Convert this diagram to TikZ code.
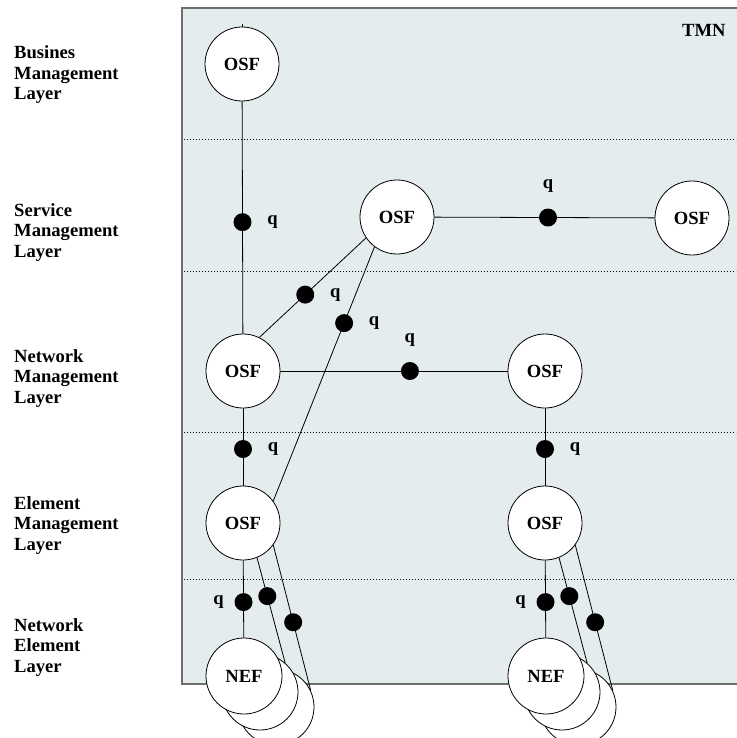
\documentclass[tikz,border=0pt]{standalone}
\usepackage{fontspec}
\setmainfont{Liberation Serif}
\begin{document}
\begin{tikzpicture}[x=1pt,y=-1pt,
  every node/.style={font=\fontsize{18.6}{20.5}\selectfont\bfseries},
  unit/.style={circle,draw,fill=white,line width=0.8pt,minimum size=74pt,inner sep=0pt},
  nefunit/.style={unit,minimum size=76pt},
  link/.style={line width=0.8pt},
  layerline/.style={line width=1pt,dash pattern=on 1pt off 2pt},
  port/.style={circle,fill=black,minimum size=18pt,inner sep=0pt},
  qright/.style={label={[inner sep=0pt,label distance=15pt]right:q}},
  qleft/.style={label={[inner sep=0pt,label distance=10pt]left:q}},
  qabove/.style={label={[inner sep=0pt,label distance=15pt]above:q}},
  layer/.style={anchor=base west,align=left,inner sep=0pt}]
\definecolor{tmnfill}{RGB}{228,236,238}
\definecolor{tmnedge}{RGB}{110,110,110}
\useasboundingbox (0,0) rectangle (736,738);

% TMN area
\fill[tmnfill] (182,8) rectangle (745,684);
\draw[tmnedge,line width=1.5pt] (745,8) -- (182,8) -- (182,684) -- (745,684);
\node[anchor=base west,inner sep=0pt] (tmn) at (682,37) {TMN};

% layer separators
\foreach \yy in {140,271,432,579}
  \draw[layerline] (184,\yy) -- (736,\yy);

% layer names (anchored on the baseline of the last line)
\node[layer] (lbus) at (14,100) {Busines\\Management\\Layer};
\node[layer] (lsvc) at (14,257) {Service\\Management\\Layer};
\node[layer] (lnet) at (14,403) {Network\\Management\\Layer};
\node[layer] (lele) at (14,550) {Element\\Management\\Layer};
\node[layer] (lne)  at (14,672) {Network\\Element\\Layer};

% function blocks
\node[unit] (osfB)  at (242,64)  {OSF};
\node[unit] (osfS1) at (397,217) {OSF};
\node[unit] (osfS2) at (692,218) {OSF};
\node[unit] (osfN1) at (243,371) {OSF};
\node[unit] (osfN2) at (545,371) {OSF};
\node[unit] (osfE1) at (243,523) {OSF};
\node[unit] (osfE2) at (545,523) {OSF};

% stacked network elements
\node[nefunit] (nefLc) at (276,707) {};
\node[nefunit] (nefLb) at (260,692) {};
\node[nefunit] (nefLa) at (244,676) {NEF};
\node[nefunit] (nefRc) at (578,707) {};
\node[nefunit] (nefRb) at (562,692) {};
\node[nefunit] (nefRa) at (546,676) {NEF};

% q reference points
\draw[link] (osfB.north) -- ++(0,-3);
\draw[link] (osfB) -- node[port,qright,pos=0.52] (p1) {} (osfN1);
\draw[link] (osfS1) -- node[port,qabove,pos=0.516] (p2) {} (osfS2);
\draw[link] (osfN1.64) -- node[port,qright,pos=0.43] (p3) {} (osfS1.214);
\draw[link] (osfS1.233) -- node[port,qright,pos=0.3] (p4) {} (osfE1.36);
\draw[link] (osfN1) -- node[port,qabove,pos=0.57] (p5) {} (osfN2);
\draw[link] (osfN1) -- node[port,qright,pos=0.526] (p6) {} (osfE1);
\draw[link] (osfN2) -- node[port,qright,pos=0.526] (p7) {} (osfE2);

\draw[link] (osfE1) -- node[port,qleft,pos=0.54] (p8) {} (nefLa);
\draw[link] (osfE1.292) -- node[port,pos=0.365] (p9) {} (nefLb.49);
\draw[link] (osfE1.324) -- node[port,pos=0.53] (p10) {} (nefLc.25);
\draw[link] (osfE2) -- node[port,qleft,pos=0.54] (p11) {} (nefRa);
\draw[link] (osfE2.292) -- node[port,pos=0.365] (p12) {} (nefRb.49);
\draw[link] (osfE2.324) -- node[port,pos=0.53] (p13) {} (nefRc.25);
\end{tikzpicture}
\end{document}
